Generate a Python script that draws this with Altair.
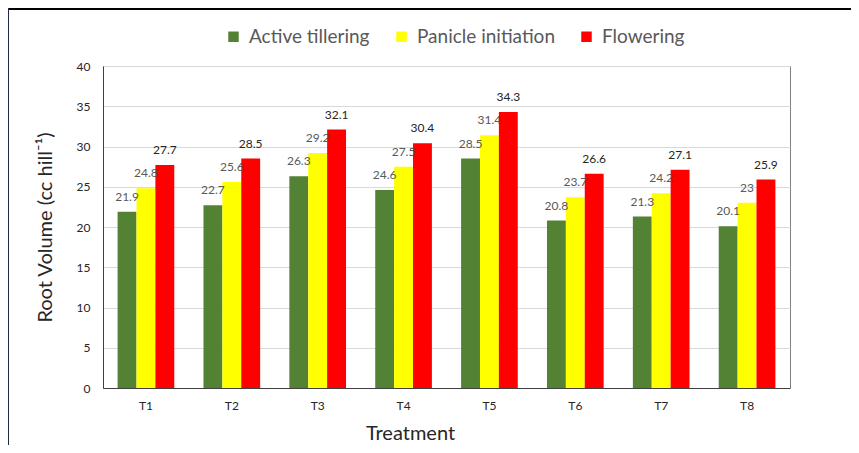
import altair as alt
import pandas as pd

treatments = ["T1", "T2", "T3", "T4", "T5", "T6", "T7", "T8"]
series = ["Active tillering", "Panicle initiation", "Flowering"]
active = [21.9, 22.7, 26.3, 24.6, 28.5, 20.8, 21.3, 20.1]
panicle = [24.8, 25.6, 29.2, 27.5, 31.4, 23.7, 24.2, 23.0]
flowering = [27.7, 28.5, 32.1, 30.4, 34.3, 26.6, 27.1, 25.9]
colors = ["#548235", "#FFFF00", "#FF0000"]

rows = []
for s, vals in zip(series, [active, panicle, flowering]):
    for t, v in zip(treatments, vals):
        rows.append({"treatment": t, "series": s, "value": v, "label": f"{v:g}"})
df = pd.DataFrame(rows)

FONT = "Lato"

x = alt.X(
    "treatment:N",
    sort=treatments,
    scale=alt.Scale(paddingInner=0.34, paddingOuter=0.17),
    axis=alt.Axis(
        title="Treatment", labelAngle=0, labelFontSize=12, labelColor="#262626",
        labelPadding=12, ticks=False, domainColor="#404040",
        titleFontSize=20, titleFontWeight="normal", titleColor="#262626",
        titlePadding=12, titleX=307, titleAlign="center",
    ),
)
xo = alt.XOffset("series:N", sort=series, scale=alt.Scale(paddingInner=0, paddingOuter=0))
y = alt.Y(
    "value:Q",
    scale=alt.Scale(domain=[0, 40], nice=False),
    axis=alt.Axis(
        title="Root Volume (cc hill⁻¹)", values=list(range(0, 41, 5)), labelFontSize=12,
        labelColor="#262626", ticks=False, labelPadding=13, domainColor="#404040",
        gridColor="#d9d9d9", titleFontSize=20, titleFontWeight="normal",
        titleColor="#262626", titlePadding=21,
    ),
)

base = alt.Chart(df).encode(x=x, xOffset=xo, y=y)

bars = base.mark_bar(strokeWidth=0).encode(
    color=alt.Color(
        "series:N", sort=series,
        scale=alt.Scale(domain=series, range=colors),
        legend=alt.Legend(
            title=None, orient="none", legendX=121, legendY=-39, direction="horizontal",
            symbolType="square", symbolSize=110, symbolStrokeWidth=0,
            labelFontSize=19, labelColor="#595959", columnPadding=22, labelOffset=6,
        ),
    )
)

texts = base.mark_text(baseline="middle", dy=-15, fontSize=12).encode(
    text="label:N",
    color=alt.condition(alt.datum.series == "Flowering", alt.value("#262626"), alt.value("#595959")),
)

frame_top = alt.Chart(df).mark_rule(color="black", strokeWidth=2).encode(
    x=alt.value(-96), x2=alt.value(760), y=alt.value(-57)
)
frame_left = alt.Chart(df).mark_rule(color="#1f2a44", strokeWidth=2).encode(
    x=alt.value(-95), y=alt.value(-58), y2=alt.value(390)
)

chart = alt.layer(bars, texts, frame_top, frame_left).properties(
    width=687, height=322,
    autosize=alt.AutoSizeParams(type="none"),
    padding={"left": 95, "top": 58, "right": 61, "bottom": 57},
).configure(font=FONT).configure_view(stroke="#7f7f7f", strokeWidth=1)

chart.save("out.html", embed_options={"renderer": "svg", "actions": False})
